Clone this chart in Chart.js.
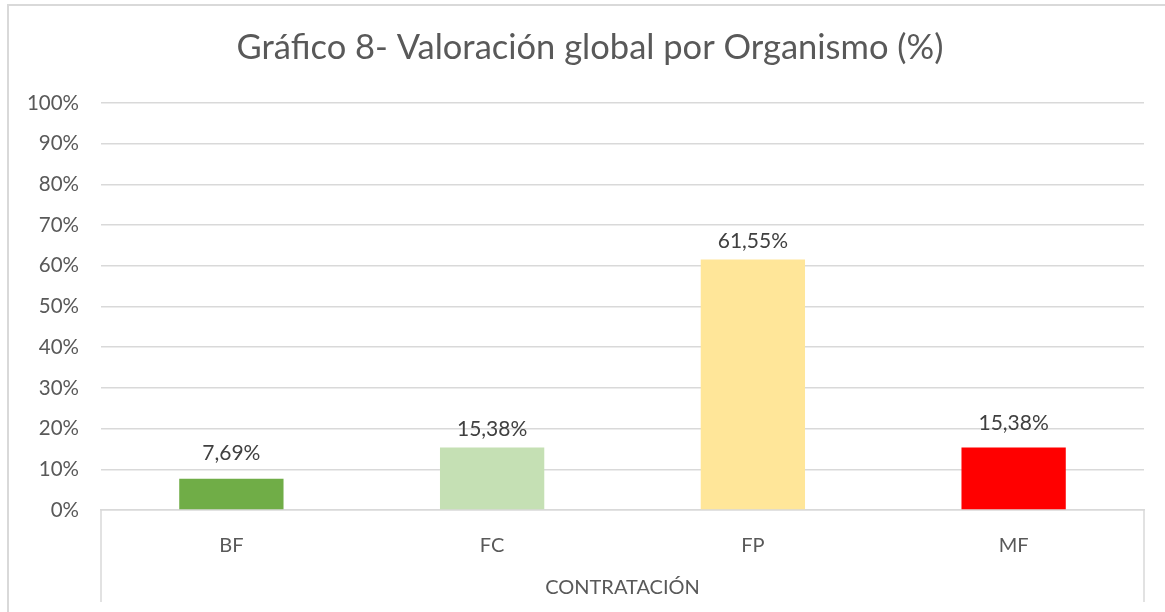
<!DOCTYPE html>
<html>
<head>
<meta charset="utf-8">
<script src="https://cdn.jsdelivr.net/npm/chart.js@4/dist/chart.umd.min.js"></script>
<style>
  html, body { margin: 0; padding: 0; background: #fff; overflow: hidden; }
  #frame { position: absolute; left: 7px; top: 4px; width: 1300px; height: 800px; border: 2px solid #d9d9d9; box-sizing: border-box; }
  #wrap { position: absolute; left: 0; top: 0; width: 1165px; height: 612px; }
</style>
</head>
<body>
<div id="frame"></div>
<div id="wrap"><canvas id="chart" width="1165" height="612"></canvas></div>
<script>
const categories = ['BF', 'FC', 'FP', 'MF'];
const values = [7.69, 15.38, 61.55, 15.38];
const barColors = ['#70AD47', '#C5E0B4', '#FFE699', '#FF0000'];
const groupLabel = 'CONTRATACIÓN';
const chartTitle = 'Gráfico 8- Valoración global por Organismo (%)';

const FONT = 'Lato, "Noto Sans", sans-serif';
const TEXT = '#595959';
// labels were nudged by hand in the original, so the gap above each bar varies
const labelGap = [25, 18, 18, 24];

// title drawn by hand so it can sit off-centre like the original
const titleText = {
    id: 'titleText',
    afterDraw(chart) {
        const ctx = chart.ctx;
        ctx.save();
        ctx.font = '34.5px ' + FONT;
        ctx.fillStyle = TEXT;
        ctx.textAlign = 'center';
        ctx.textBaseline = 'middle';
        ctx.fillText(chartTitle, 590, 48);
        ctx.restore();
    }
};

const valueLabels = {
    id: 'valueLabels',
    afterDatasetsDraw(chart) {
        const ctx = chart.ctx;
        const meta = chart.getDatasetMeta(0);
        ctx.save();
        ctx.font = '21px ' + FONT;
        ctx.fillStyle = '#404040';
        ctx.textAlign = 'center';
        ctx.textBaseline = 'middle';
        meta.data.forEach((bar, i) => {
            ctx.fillText(values[i].toFixed(2).replace('.', ',') + '%', bar.x, bar.y - labelGap[i]);
        });
        ctx.restore();
    }
};

const groupAxis = {
    id: 'groupAxis',
    afterDraw(chart) {
        const ctx = chart.ctx;
        const x = chart.scales.x;
        ctx.save();
        ctx.strokeStyle = '#d9d9d9';
        ctx.lineWidth = 1.5;
        ctx.beginPath();
        ctx.moveTo(x.left, x.top);
        ctx.lineTo(x.left, 602);
        ctx.moveTo(x.right, x.top);
        ctx.lineTo(x.right, 602);
        ctx.stroke();
        ctx.font = '20px ' + FONT;
        ctx.fillStyle = TEXT;
        ctx.textAlign = 'center';
        ctx.textBaseline = 'middle';
        ctx.fillText(groupLabel, (x.left + x.right) / 2, 588);
        ctx.restore();
    }
};

new Chart(document.getElementById('chart').getContext('2d'), {
    type: 'bar',
    data: {
        labels: categories,
        datasets: [{ data: values, backgroundColor: barColors, borderWidth: 0, barPercentage: 0.4, categoryPercentage: 1 }]
    },
    options: {
        responsive: false,
        animation: false,
        layout: { padding: { left: 0, right: 21, top: 103, bottom: 0 } },
        plugins: {
            legend: { display: false },
            tooltip: { enabled: false },
            title: { display: false }
        },
        scales: {
            y: {
                min: 0, max: 100,
                ticks: { stepSize: 10, callback: v => v + '%', color: TEXT, font: { family: FONT, size: 20.5 }, padding: 22 },
                grid: { color: '#d9d9d9', lineWidth: 1.5, drawTicks: false },
                border: { display: false },
                afterFit(scale) { scale.width = 101; }
            },
            x: {
                ticks: { color: TEXT, font: { family: FONT, size: 20 }, padding: 24 },
                grid: { display: false, drawTicks: false },
                border: { display: true, color: '#d9d9d9', width: 1.5 },
                afterFit(scale) { scale.height = 102; }
            }
        }
    },
    plugins: [titleText, valueLabels, groupAxis]
});
</script>
</body>
</html>
